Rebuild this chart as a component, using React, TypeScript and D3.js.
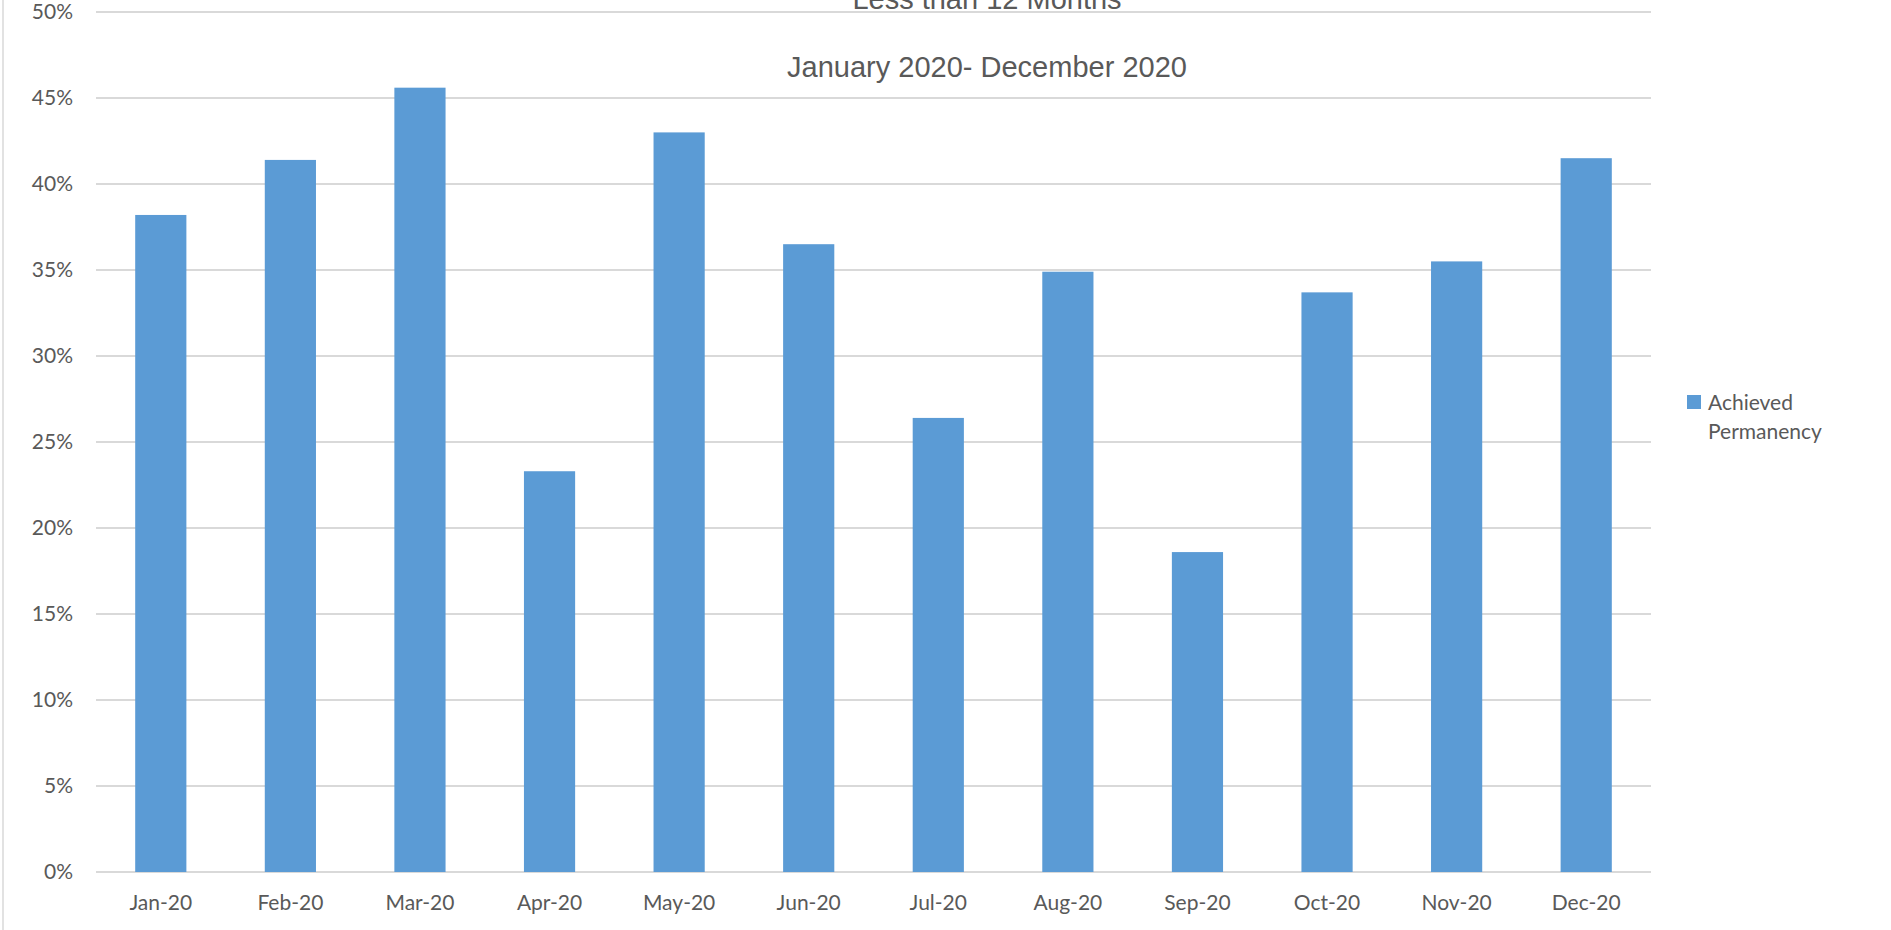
import React, { useRef, useEffect } from "react";
import * as d3 from "d3";

// data
const months = [
  "Jan-20", "Feb-20", "Mar-20", "Apr-20", "May-20", "Jun-20",
  "Jul-20", "Aug-20", "Sep-20", "Oct-20", "Nov-20", "Dec-20",
];
const achievedPermanency = [
  0.382, 0.414, 0.456, 0.233, 0.43, 0.365, 0.264, 0.349, 0.186, 0.337, 0.355, 0.415,
];
const yTicks = [0, 0.05, 0.1, 0.15, 0.2, 0.25, 0.3, 0.35, 0.4, 0.45, 0.5];
const titleLines = ["Less than 12 Months", "January 2020- December 2020"];
const seriesName = ["Achieved", "Permanency"];

const W = 1891;
const H = 930;
const BAR = "#5b9bd5";
const GRID = "#d9d9d9";
const TEXT = "#595959";
const FONT = "Lato, 'Noto Sans', sans-serif";

const App: React.FC = () => {
  const ref = useRef<SVGSVGElement | null>(null);

  useEffect(() => {
    const svg = d3.select(ref.current);
    svg.selectAll("*").remove();

    const plot = { left: 96, right: 1651, top: 12, bottom: 872 };

    const x = d3
      .scaleBand<string>()
      .domain(months)
      .range([plot.left, plot.right])
      .paddingInner(0.605)
      .paddingOuter(0.3025);

    const y = d3.scaleLinear().domain([0, 0.5]).range([plot.bottom, plot.top]);

    svg.attr("viewBox", `0 0 ${W} ${H}`);

    // chart area border (only the left edge is visible)
    svg
      .append("line")
      .attr("x1", 3)
      .attr("x2", 3)
      .attr("y1", 0)
      .attr("y2", H)
      .attr("stroke", GRID)
      .attr("stroke-width", 1.5);

    // gridlines
    svg
      .append("g")
      .selectAll("line")
      .data(yTicks)
      .join("line")
      .attr("x1", plot.left)
      .attr("x2", plot.right)
      .attr("y1", (d) => y(d))
      .attr("y2", (d) => y(d))
      .attr("stroke", GRID)
      .attr("stroke-width", 2);

    // y tick labels
    svg
      .append("g")
      .selectAll("text")
      .data(yTicks)
      .join("text")
      .attr("x", 73)
      .attr("y", (d) => y(d))
      .attr("dy", "0.35em")
      .attr("text-anchor", "end")
      .attr("fill", TEXT)
      .style("font-family", FONT)
      .style("font-size", "21px")
      .text((d) => d3.format(".0%")(d));

    // x tick labels
    svg
      .append("g")
      .selectAll("text")
      .data(months)
      .join("text")
      .attr("x", (d) => (x(d) as number) + x.bandwidth() / 2)
      .attr("y", 910)
      .attr("text-anchor", "middle")
      .attr("fill", TEXT)
      .style("font-family", FONT)
      .style("font-size", "21px")
      .text((d) => d);

    // bars
    svg
      .append("g")
      .selectAll("rect")
      .data(achievedPermanency)
      .join("rect")
      .attr("x", (_, i) => x(months[i]) as number)
      .attr("y", (d) => y(d))
      .attr("width", x.bandwidth())
      .attr("height", (d) => y(0) - y(d))
      .attr("fill", BAR);

    // title (first line is clipped at the top)
    svg
      .append("g")
      .selectAll("text")
      .data(titleLines)
      .join("text")
      .attr("x", 987)
      .attr("y", (_, i) => (i === 0 ? 9 : 77))
      .attr("text-anchor", "middle")
      .attr("fill", TEXT)
      .style("font-family", "'Liberation Sans', Arial, sans-serif")
      .style("font-size", "29px")
      .text((d) => d);

    // legend
    const legend = svg.append("g").attr("transform", "translate(1687, 395)");
    legend
      .append("rect")
      .attr("width", 14)
      .attr("height", 14)
      .attr("fill", BAR);
    legend
      .append("g")
      .selectAll("text")
      .data(seriesName)
      .join("text")
      .attr("x", 21)
      .attr("y", (_, i) => 15 + i * 29)
      .attr("fill", TEXT)
      .style("font-family", FONT)
      .style("font-size", "21px")
      .text((d) => d);
  }, []);

  return (
    <svg
      ref={ref}
      width={W}
      height={H}
      style={{ position: "absolute", left: 0, top: 0, background: "#fff" }}
    />
  );
};

export default App;
